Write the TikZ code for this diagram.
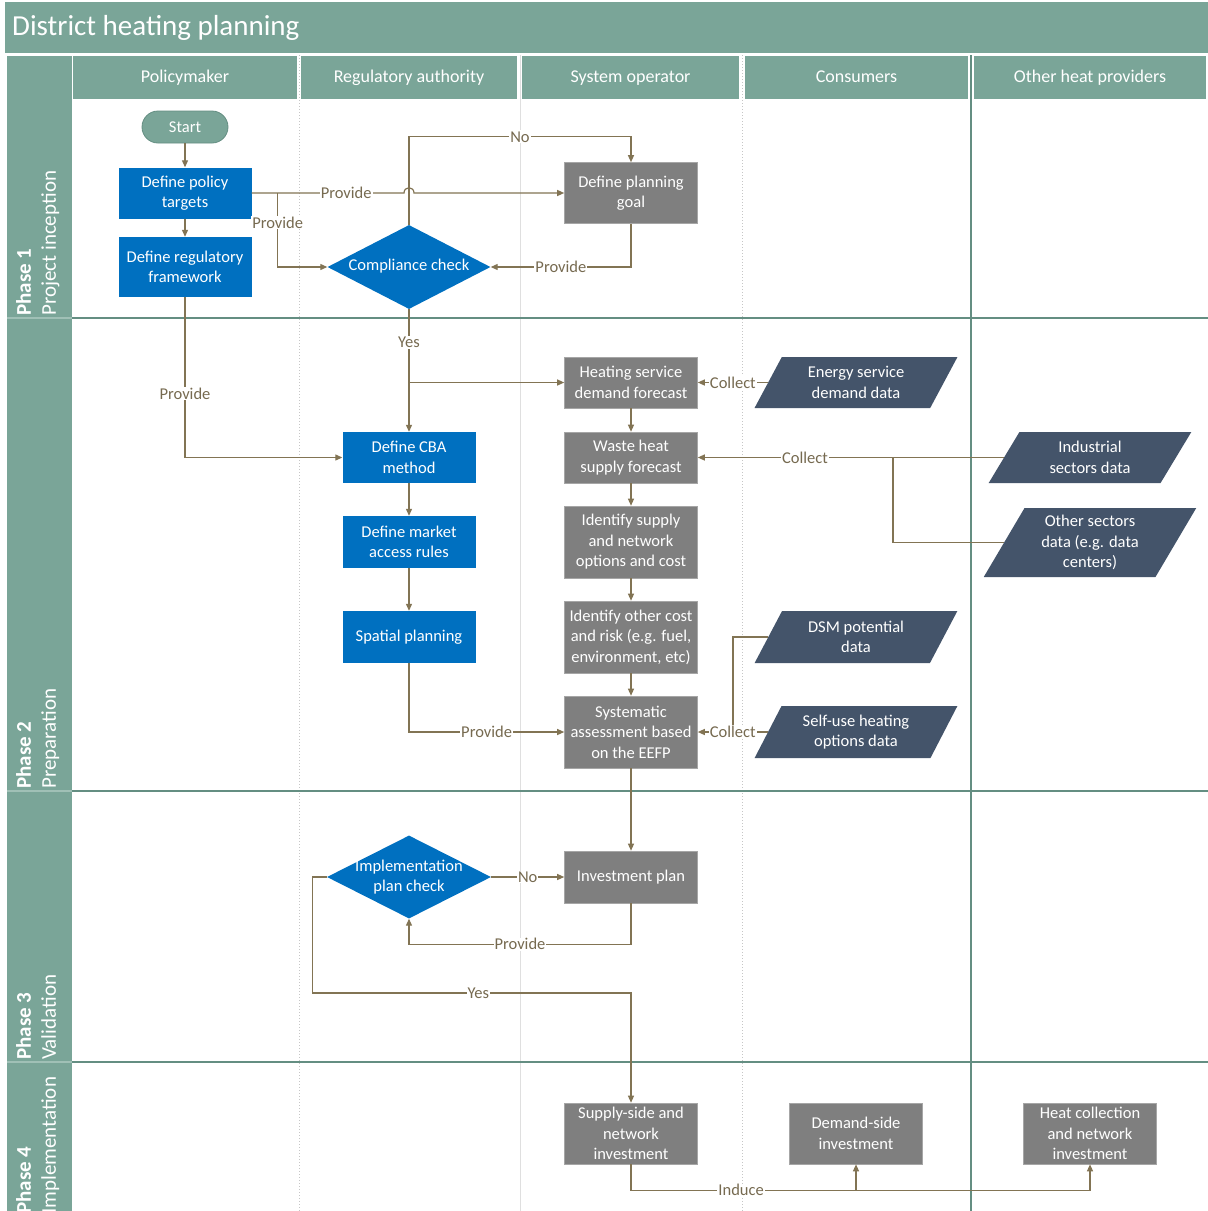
\documentclass[tikz,border=0pt]{standalone}
\usepackage{fontspec}
\setmainfont{Carlito}
\usetikzlibrary{arrows.meta,shapes.geometric,calc}
\definecolor{teal1}{RGB}{122,165,152}
\definecolor{tealdark}{RGB}{100,142,130}
\definecolor{teallight}{RGB}{160,192,182}
\definecolor{blue1}{RGB}{0,112,192}
\definecolor{gray1}{RGB}{127,127,127}
\definecolor{slate}{RGB}{68,84,106}
\definecolor{conn}{RGB}{130,116,84}
\definecolor{lbltxt}{RGB}{118,106,80}
\begin{document}
\begin{tikzpicture}[x=1pt,y=-1pt,
 boxtext/.style={font=\fontsize{16.5}{20.5}\selectfont, text=white, align=center, inner xsep=2pt, inner ysep=0pt},
 bluebox/.style={boxtext, rectangle, fill=blue1, minimum width=133pt},
 graybox/.style={boxtext, rectangle, fill=gray1, draw=gray!70, line width=0.6pt, minimum width=133pt},
 databox/.style={boxtext, trapezium, trapezium left angle=60, trapezium right angle=120, trapezium stretches=true, fill=slate, minimum width=203pt},
 decision/.style={diamond, fill=blue1, minimum width=163pt, minimum height=84pt, inner sep=0pt},
 lane/.style={fill=teal1, text=white, font=\fontsize{18}{22}\selectfont, minimum height=43pt, inner sep=0pt, text height=12.5pt, text depth=3.5pt},
 arr/.style={draw=conn, line width=1.2pt, -{Triangle[length=7pt,width=6pt]}},
 cline/.style={draw=conn, line width=1.2pt},
 lbl/.style={fill=white, text=lbltxt, font=\fontsize{16.5}{20}\selectfont, inner sep=1pt},
 phase/.style={rotate=90, anchor=north west, align=left, text=white, font=\fontsize{21}{25}\selectfont, inner sep=0pt}
]
\useasboundingbox (0,0) rectangle (1208,1211);
\clip (0,0) rectangle (1208,1211);
\fill[white] (0,0) rectangle (1208,1211);
% title bar and phase column
\fill[teal1] (5,2) rectangle (1210,53);
\node[anchor=west, text=white, font=\fontsize{29}{32}\selectfont, inner sep=0pt] (title) at (12,28) {District heating planning};
\fill[teal1] (7,56) rectangle (72,1215);
% lane lines
\foreach \x in {299,742} \draw[gray!45, dotted, line width=1pt] (\x,55) -- (\x,1211);
\draw[gray!25, line width=1pt] (520,55) -- (520,1211);
\draw[tealdark, line width=1.2pt] (971,55) -- (971,1211);
\foreach \y in {318,791,1062} {
  \draw[tealdark, line width=1.2pt] (72,\y) -- (1208,\y);
  \draw[teallight, line width=1.2pt] (7,\y) -- (72,\y);
}
% lane headers
\node[lane, minimum width=224pt] (h1) at (185,77.5) {Policymaker};
\node[lane, minimum width=216pt] (h2) at (409,77.5) {Regulatory authority};
\node[lane, minimum width=217pt] (h3) at (630.5,77.5) {System operator};
\node[lane, minimum width=223pt] (h4) at (856.5,77.5) {Consumers};
\node[lane, minimum width=232pt] (h5) at (1090,77.5) {Other heat providers};
% phase labels
\node[phase] (p1) at (16,316) {\textbf{Phase 1}\\Project inception};
\node[phase] (p2) at (16,789) {\textbf{Phase 2}\\Preparation};
\node[phase] (p3) at (16,1060) {\textbf{Phase 3}\\Validation};
\node[phase] (p4) at (16,1214) {\textbf{Phase 4}\\Implementation};
% nodes
\node[fill=teal1, draw=tealdark, line width=0.8pt, rounded corners=16pt, minimum width=86pt, minimum height=32pt, text=white, font=\fontsize{16.5}{20}\selectfont] (start) at (185,127) {Start};
\node[bluebox, minimum height=51pt] (pol) at (185,193) {Define policy\\targets};
\node[bluebox, minimum height=60pt] (reg) at (185,267) {Define regulatory\\framework};
\node[decision] (cc) at (409,267) {};
\node[boxtext] (cctext) at (409,266) {Compliance check};
\node[graybox, minimum height=61pt] (goal) at (631,193) {Define planning\\goal};
\node[graybox, minimum height=51pt] (hsd) at (631,382.5) {Heating service\\demand forecast};
\node[graybox, minimum height=51pt] (whs) at (631,457.5) {Waste heat\\supply forecast};
\node[graybox, minimum height=72pt] (isn) at (631,542) {Identify supply\\and network\\options and cost};
\node[graybox, minimum height=72pt] (ioc) at (631,637) {Identify other cost\\and risk (e.g. fuel,\\environment, etc)};
\node[graybox, minimum height=72pt] (sys) at (631,732) {Systematic\\assessment based\\on the EEFP};
\node[bluebox, minimum height=51pt] (cba) at (409,457.5) {Define CBA\\method};
\node[bluebox, minimum height=52pt] (mar) at (409,542) {Define market\\access rules};
\node[bluebox, minimum height=52pt] (spa) at (409,637) {Spatial planning};
\node[databox, minimum height=51pt] (esd) at (856,382.5) {Energy service\\demand data};
\node[databox, minimum height=51pt] (ind) at (1090,457.5) {Industrial\\sectors data};
\node[databox, minimum height=69pt, minimum width=213pt] (oth) at (1090,542.5) {Other sectors\\data (e.g. data\\centers)};
\node[databox, minimum height=52pt] (dsm) at (856,637) {DSM potential\\data};
\node[databox, minimum height=52pt] (self) at (856,732) {Self-use heating\\options data};
\node[decision, minimum width=164pt, minimum height=83pt] (ipc) at (409,877) {};
\node[boxtext] (ipctext) at (409,877) {Implementation\\plan check};
\node[graybox, minimum height=52pt] (inv) at (631,877) {Investment plan};
\node[graybox, minimum height=61pt] (sup) at (631,1133.5) {Supply-side and\\network\\investment};
\node[graybox, minimum height=61pt] (dem) at (856,1133.5) {Demand-side\\investment};
\node[graybox, minimum height=61pt] (hcn) at (1090,1133.5) {Heat collection\\and network\\investment};
% junction coordinates
\coordinate (b1) at ($(pol.east)+(26,0)$);
\coordinate (j1) at (cc.south |- hsd.west);
\coordinate (j2) at (893,457.5);
\coordinate (j3) at (733,732);
\coordinate (j4) at ($(sup.south)+(0,26)$);
% connectors phase 1
\draw[arr] (start) -- (pol);
\draw[arr] (pol) -- (reg);
\draw[arr] (pol.east) -- node[lbl,pos=0.62]{Provide} ([xshift=-5pt]cc.north |- pol.east) .. controls +(0,-7) and +(0,-7) .. ++(10,0) -- (goal.west);
\draw[arr] (b1) -- node[lbl,pos=0.4]{Provide} (b1 |- cc.west) -- (cc.west);
\draw[arr] (cc.north) -- ++(0,-88) -| node[lbl,pos=0.25]{No} (goal.north);
\draw[arr] (goal.south) |- node[lbl,pos=0.75]{Provide} (cc.east);
% phase 2
\draw[arr] (cc.south) -- node[lbl,pos=0.27]{Yes} (cba.north);
\draw[arr] (j1) -- (hsd.west);
\draw[arr] (reg.south) |- node[lbl,pos=0.3]{Provide} (cba.west);
\draw[arr] (hsd) -- (whs);
\draw[arr] (whs) -- (isn);
\draw[arr] (isn) -- (ioc);
\draw[arr] (ioc) -- (sys);
\draw[arr] (cba) -- (mar);
\draw[arr] (mar) -- (spa);
\draw[arr] (spa.south) |- node[lbl,pos=0.75]{Provide} (sys.west);
\draw[arr] (esd.left side) -- node[lbl]{Collect} (hsd.east);
\draw[arr] (ind.left side) -- node[lbl,pos=0.65]{Collect} (whs.east);
\draw[cline] (oth.left side) -| (j2);
\draw[cline] (dsm.left side) -| (j3);
\draw[arr] (self.left side) -- node[lbl]{Collect} (sys.east);
% phase 3
\draw[arr] (sys) -- (inv);
\draw[arr] (ipc.east) -- node[lbl]{No} (inv.west);
\draw[arr] (inv.south) -- ++(0,41) -| node[lbl,pos=0.25]{Provide} (ipc.south);
\draw[arr] (ipc.west) -- ++(-14,0) -- ++(0,116) -| node[lbl,pos=0.26]{Yes} (sup.north);
% phase 4
\draw[arr] (sup.south) -- (j4) -| node[lbl,pos=0.12]{Induce} (hcn.south);
\draw[arr] (j4 -| dem.south) -- (dem.south);
\end{tikzpicture}
\end{document}
